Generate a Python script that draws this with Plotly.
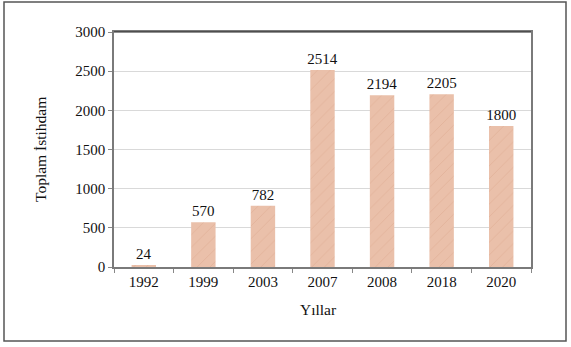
import plotly.graph_objects as go

years = ["1992", "1999", "2003", "2007", "2008", "2018", "2020"]
employment = [24, 570, 782, 2514, 2194, 2205, 1800]
y_ticks = [0, 500, 1000, 1500, 2000, 2500, 3000]

W, H = 571, 347
ML, MR, MT, MB = 114, 40, 32, 80
pw, ph = W - ML - MR, H - MT - MB

serif = "Liberation Serif, Times New Roman, serif"
fs = 15

fig = go.Figure(
    go.Bar(
        x=years,
        y=employment,
        text=[str(v) for v in employment],
        textposition="outside",
        constraintext="none",
        textfont=dict(family=serif, size=fs, color="#111"),
        cliponaxis=False,
        marker=dict(
            color="#EAC0AA",
            line=dict(width=0),
            pattern=dict(shape="/", fgcolor="#D8A084", size=9, solidity=0.08),
        ),
    )
)

fig.update_layout(
    width=W,
    height=H,
    margin=dict(l=ML, r=MR, t=MT, b=MB),
    paper_bgcolor="white",
    plot_bgcolor="white",
    bargap=0.59,
    showlegend=False,
    font=dict(family=serif, size=fs, color="#111"),
    xaxis=dict(
        type="category",
        ticks="outside",
        tickson="boundaries",
        ticklen=4,
        tickcolor="#888",
        showline=True,
        linecolor="#7a7a7a",
        linewidth=1.5,
        mirror=True,
        showgrid=False,
        tickfont=dict(family=serif, size=fs),
    ),
    yaxis=dict(
        range=[0, 3000],
        tickvals=y_ticks,
        ticks="outside",
        ticklen=4,
        tickcolor="#888",
        showline=True,
        linecolor="#7a7a7a",
        linewidth=1.5,
        mirror=True,
        showgrid=True,
        gridcolor="#d9d9d9",
        gridwidth=1,
        zeroline=False,
        tickfont=dict(family=serif, size=fs),
    ),
    annotations=[
        dict(
            text="Toplam İstihdam",
            xref="paper", yref="paper",
            x=(30 - ML) / pw, y=0.5,
            textangle=-90, showarrow=False,
            font=dict(family=serif, size=15.5, color="#111"),
        ),
        dict(
            text="Yıllar",
            xref="paper", yref="paper",
            x=(318 - ML) / pw, y=(H - MB - 320) / ph,
            showarrow=False,
            font=dict(family=serif, size=15.5, color="#111"),
        ),
    ],
    shapes=[
        # frame around the whole chart
        dict(
            type="rect", xref="paper", yref="paper",
            x0=(4 - ML) / pw, x1=(566 - ML) / pw,
            y0=(H - MB - 341) / ph, y1=(H - MB - 2) / ph,
            line=dict(color="#555", width=1.5),
        ),
        # darker top edge of the plot box
        dict(
            type="line", xref="paper", yref="paper",
            x0=0, x1=1, y0=1, y1=1,
            line=dict(color="#222", width=1),
        ),
    ],
)

fig.write_html("out.html")
